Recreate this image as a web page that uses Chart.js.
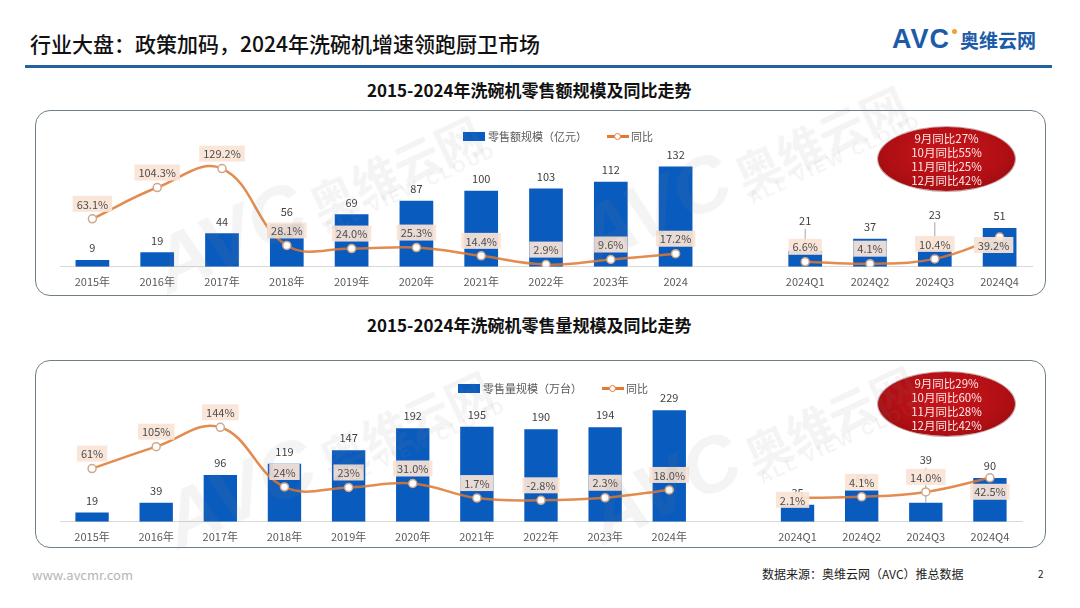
<!DOCTYPE html>
<html><head><meta charset="utf-8">
<script src="https://cdn.jsdelivr.net/npm/chart.js@4.4.1/dist/chart.umd.min.js"></script>
<style>
html,body{margin:0;padding:0;background:#fff;}
body{width:1080px;height:608px;position:relative;overflow:hidden;font-family:"Noto Sans CJK SC","Noto Sans",sans-serif;}
.abs{position:absolute;}
#title{left:30px;top:28px;font-size:21px;color:#111;white-space:nowrap;line-height:30px;font-weight:500;}
#rule{left:25px;top:65px;width:1027px;height:3px;background:#2361a0;}
#logo{left:892px;top:24px;white-space:nowrap;color:#1d5ba8;}
#logo .avc{font-family:"Liberation Sans",Arial,sans-serif;font-weight:bold;font-size:27px;letter-spacing:1px;position:relative;}
#logo .dot{position:absolute;right:-7px;top:5px;width:5px;height:5px;border-radius:50%;background:#f0a030;}
#logo .cn{font-size:19px;font-weight:bold;margin-left:10px;}
.sub{font-size:17px;font-weight:bold;color:#111;white-space:nowrap;line-height:24px;}
.box{border:1.5px solid #6f7f8a;border-radius:15px;box-sizing:border-box;background:transparent;}
.legend{display:flex;align-items:center;font-size:11px;color:#595959;white-space:nowrap;line-height:14px;}
.lg-bar{display:inline-block;width:22px;height:9px;background:#0A5BBE;margin-right:3px;}
.lg-line{display:inline-block;width:22px;height:10px;position:relative;margin-left:20px;margin-right:2px;}
.lg-line:before{content:"";position:absolute;left:0;right:0;top:4px;height:2.5px;background:#E07B36;}
.lg-line:after{content:"";position:absolute;left:7px;top:1.5px;width:5px;height:5px;border-radius:50%;background:#fff;border:1.2px solid #E07B36;}
.ellipse{width:137px;height:64px;border-radius:50%;background:radial-gradient(ellipse at 50% 40%,#c9151b 0%,#b00f14 60%,#8e0a0d 100%);color:#ffe8e8;font-size:11.5px;line-height:14px;text-align:center;display:flex;flex-direction:column;justify-content:center;box-shadow:0 0 0 1px rgba(90,0,0,0.35);}
.wm{color:rgba(130,130,130,0.09);white-space:nowrap;transform:rotate(-25deg);transform-origin:center;pointer-events:none;z-index:5;font-weight:bold;}
.wm .a{font-family:"Liberation Sans",Arial,sans-serif;font-size:78px;font-style:italic;}
.wm .c{font-size:46px;margin-left:8px;}
.wm .e{display:block;font-family:"Liberation Sans",Arial,sans-serif;font-size:17px;letter-spacing:3px;margin-left:170px;margin-top:-22px;}
.foot{font-size:12px;color:#222;white-space:nowrap;}
canvas{display:block;}
</style>
</head><body>
<div id="title" class="abs">行业大盘：政策加码，2024年洗碗机增速领跑厨卫市场</div>
<div id="logo" class="abs"><span class="avc">AVC<span class="dot"></span></span><span class="cn">奥维云网</span></div>
<div id="rule" class="abs"></div>

<div class="sub abs" style="left:367px;top:78px;">2015-2024年洗碗机零售额规模及同比走势</div>
<div class="box abs" style="left:35px;top:110px;width:1011px;height:186px;"></div>
<canvas id="c1" class="abs" width="1011" height="186" style="left:35px;top:110px;"></canvas>
<div class="legend abs" style="left:463px;top:129px;"><span class="lg-bar"></span><span>零售额规模（亿元）</span><span class="lg-line"></span><span>同比</span></div>
<div class="ellipse abs" style="left:878px;top:127px;"><div>9月同比27%</div><div>10月同比55%</div><div>11月同比25%</div><div>12月同比42%</div></div>

<div class="sub abs" style="left:367px;top:313px;">2015-2024年洗碗机零售量规模及同比走势</div>
<div class="box abs" style="left:35px;top:360px;width:1011px;height:188px;"></div>
<canvas id="c2" class="abs" width="1011" height="191" style="left:35px;top:360px;"></canvas>
<div class="legend abs" style="left:458px;top:381px;"><span class="lg-bar"></span><span>零售量规模（万台）</span><span class="lg-line"></span><span>同比</span></div>
<div class="ellipse abs" style="left:878px;top:372px;"><div>9月同比29%</div><div>10月同比60%</div><div>11月同比28%</div><div>12月同比42%</div></div>

<div class="wm abs" style="left:140px;top:150px;"><span class="a">AVC</span><span class="c">奥维云网</span><span class="e">ALL VIEW CLOUD</span></div>
<div class="wm abs" style="left:565px;top:120px;"><span class="a">AVC</span><span class="c">奥维云网</span><span class="e">ALL VIEW CLOUD</span></div>
<div class="wm abs" style="left:150px;top:405px;"><span class="a">AVC</span><span class="c">奥维云网</span><span class="e">ALL VIEW CLOUD</span></div>
<div class="wm abs" style="left:575px;top:400px;"><span class="a">AVC</span><span class="c">奥维云网</span><span class="e">ALL VIEW CLOUD</span></div>

<div class="foot abs" style="left:32px;top:565px;color:#b5b5b5;font-size:13px;">www.avcmr.com</div>
<div class="foot abs" style="left:762px;top:565px;">数据来源：奥维云网（AVC）推总数据</div>
<div class="foot abs" style="left:1038px;top:566px;font-size:10px;">2</div>

<script>
// ---- data ----
const amountCategories = ['2015年','2016年','2017年','2018年','2019年','2020年','2021年','2022年','2023年','2024','','2024Q1','2024Q2','2024Q3','2024Q4'];
const amountValues = [9,19,44,56,69,87,100,103,112,132,null,21,37,23,51];
const amountYoY = [63.1,104.3,129.2,28.1,24.0,25.3,14.4,2.9,9.6,17.2,null,6.6,4.1,10.4,39.2];
const amountYoYLabels = ['63.1%','104.3%','129.2%','28.1%','24.0%','25.3%','14.4%','2.9%','9.6%','17.2%','','6.6%','4.1%','10.4%','39.2%'];

const volumeCategories = ['2015年','2016年','2017年','2018年','2019年','2020年','2021年','2022年','2023年','2024年','','2024Q1','2024Q2','2024Q3','2024Q4'];
const volumeValues = [19,39,96,119,147,192,195,190,194,229,null,35,64,39,90];
const volumeYoY = [61,105,144,24,23,31.0,1.7,-2.8,2.3,18.0,null,2.1,4.1,14.0,42.5];
const volumeYoYLabels = ['61%','105%','144%','24%','23%','31.0%','1.7%','-2.8%','2.3%','18.0%','','2.1%','4.1%','14.0%','42.5%'];

const BAR_COLOR = '#0A5BBE';
const LINE_COLOR = 'rgba(222,120,48,0.85)';
const FONT = '"Noto Sans CJK SC","Noto Sans",sans-serif';

const labelPlugin = {
  id: 'valueLabels',
  afterDatasetDraw(chart, args, opts) {
    const ds = chart.data.datasets[args.index];
    if (ds.type !== 'bar') return;
    const ctx = chart.ctx;
    ctx.save();
    ctx.font = '11px ' + FONT;
    ctx.fillStyle = '#404040';
    ctx.textAlign = 'center';
    ctx.textBaseline = 'middle';
    args.meta.data.forEach((el, i) => {
      const v = ds.data[i];
      if (v === null || v === undefined) return;
      const lift = (opts.barLift && opts.barLift[i]) || 0;
      const y = el.y - 12 - lift;
      if (lift) {
        ctx.strokeStyle = '#a6a6a6';
        ctx.lineWidth = 1;
        ctx.beginPath();
        ctx.moveTo(el.x, y + 8);
        ctx.lineTo(el.x, el.y);
        ctx.stroke();
      }
      ctx.fillText(String(v), el.x, y);
    });
    ctx.restore();
  },
  afterDatasetsDraw(chart, args, opts) {
    const idx = chart.data.datasets.findIndex(d => d.type === 'line');
    const meta = chart.getDatasetMeta(idx);
    const texts = opts.lineText || [];
    const ctx = chart.ctx;
    ctx.save();
    ctx.font = '11px ' + FONT;
    ctx.textAlign = 'center';
    ctx.textBaseline = 'middle';
    meta.data.forEach((el, i) => {
      const t = texts[i];
      if (!t || chart.data.datasets[idx].data[i] === null) return;
      const sh = (opts.lineShift && opts.lineShift[i]) || {dx: 0, dy: -15};
      const cx = el.x + sh.dx, cy = el.y + sh.dy;
      const w = ctx.measureText(t).width + 8, h = 16;
      ctx.fillStyle = 'rgba(250,228,214,0.93)';
      ctx.fillRect(cx - w / 2, cy - h / 2, w, h);
      ctx.fillStyle = '#4d4d4d';
      ctx.fillText(t, cx, cy + 0.5);
    });
    ctx.restore();
  }
};

function makeChart(id, cats, bars, yoy, yoyText, yMax, y1Min, y1Max, pad, plugOpts) {
  return new Chart(document.getElementById(id), {
    data: {
      labels: cats,
      datasets: [
        { type: 'bar', label: 'bar', data: bars, backgroundColor: BAR_COLOR, yAxisID: 'y', order: 2,
          barPercentage: 0.52, categoryPercentage: 1.0 },
        { type: 'line', label: '同比', data: yoy, yAxisID: 'y1', order: 1,
          borderColor: LINE_COLOR, borderWidth: 2.5, tension: 0.4, spanGaps: false,
          pointRadius: 4, pointBackgroundColor: '#ffffff', pointBorderColor: '#cfa88c', pointBorderWidth: 1.5 }
      ]
    },
    options: {
      responsive: false, animation: false,
      layout: { padding: pad },
      plugins: { legend: { display: false }, tooltip: { enabled: false },
        valueLabels: Object.assign({ lineText: yoyText }, plugOpts) },
      scales: {
        x: { type: 'category', offset: true,
             grid: { display: true, drawOnChartArea: false, drawTicks: false },
             border: { display: true, color: '#d9d9d9', width: 1 },
             ticks: { color: '#595959', font: { size: 11, family: FONT }, padding: 8, autoSkip: false, maxRotation: 0 } },
        y: { display: false, min: 0, max: yMax },
        y1: { display: false, min: y1Min, max: y1Max }
      }
    },
    plugins: [labelPlugin]
  });
}

makeChart('c1', amountCategories, amountValues, amountYoY, amountYoYLabels, 180, 0, 180,
  { left: 25, right: 14, top: 20, bottom: 0 },
  { barLift: { 11: 18, 13: 23 }, lineShift: { 14: { dx: -6, dy: 8 } } });

makeChart('c2', volumeCategories, volumeValues, volumeYoY, volumeYoYLabels, 291, -46, 239,
  { left: 25, right: 24, top: 20, bottom: 0 },
  { barLift: { 13: 31 }, lineShift: { 11: { dx: -5, dy: 2 }, 14: { dx: 0, dy: 14 } } });
</script>
</body></html>
